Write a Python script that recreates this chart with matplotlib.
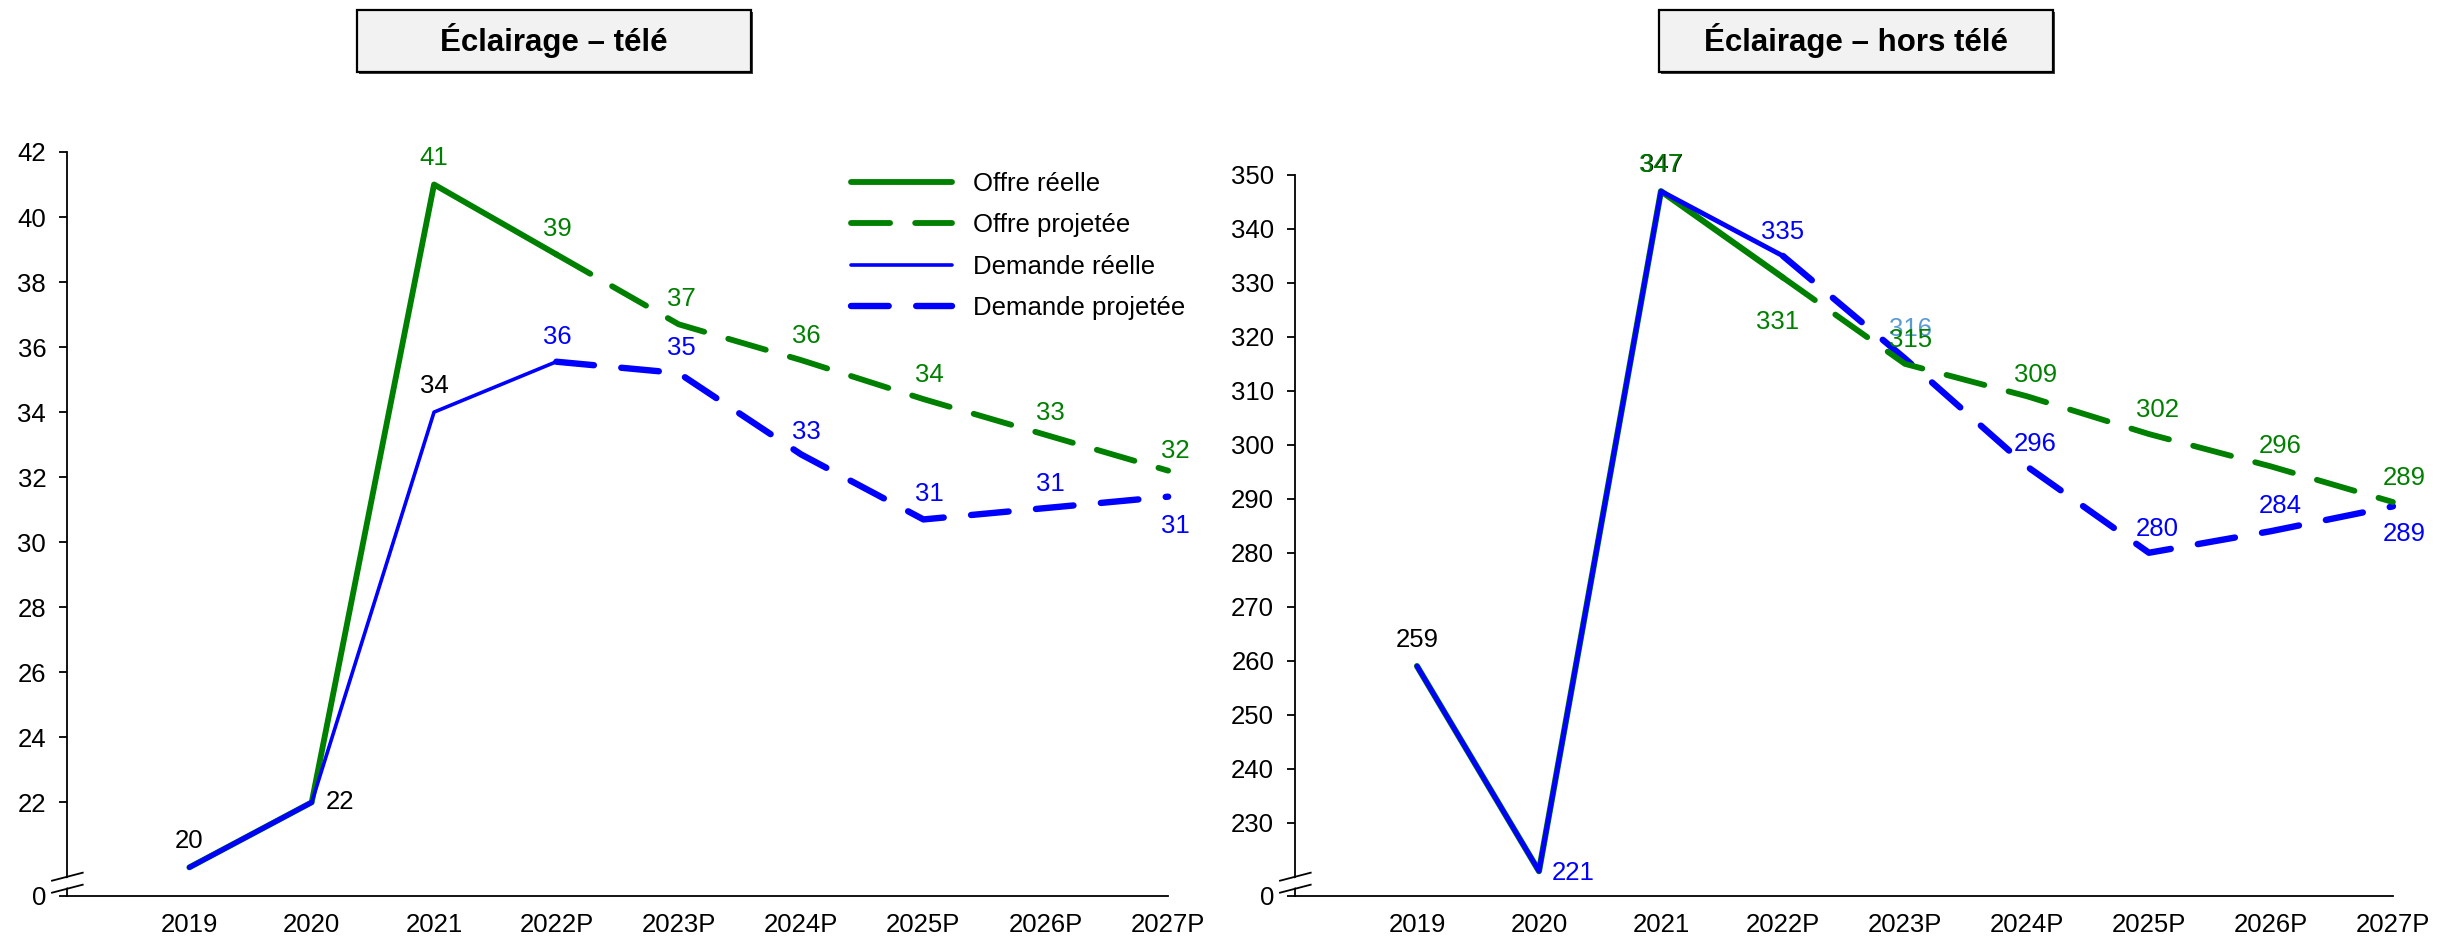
import matplotlib
matplotlib.use("Agg")
import matplotlib.pyplot as plt
import matplotlib.transforms as mtransforms
from matplotlib.patches import Rectangle, Polygon
from matplotlib.lines import Line2D

plt.rcParams['font.family'] = ['Liberation Sans', 'DejaVu Sans']

years = ["2019", "2020", "2021", "2022P", "2023P", "2024P", "2025P", "2026P", "2027P"]

# Eclairage - tele
tele_offre_reelle = [20.0, 22.0, 41.0, 38.85]
tele_offre_proj = [38.85, 36.7, 35.6, 34.4, 33.3, 32.2]
tele_dem_reelle = [20.0, 22.0, 34.0, 35.55]
tele_dem_proj = [35.55, 35.2, 32.7, 30.7, 31.05, 31.4]
tele_yticks = [22, 24, 26, 28, 30, 32, 34, 36, 38, 40, 42]

# Eclairage - hors tele
hors_offre_reelle = [259, 221, 347, 331]
hors_offre_proj = [331, 315, 309, 302, 296, 289.4]
hors_dem_reelle = [259, 221, 347, 335]
hors_dem_proj = [335, 316, 296, 280, 284, 288.6]
hors_yticks = [230, 240, 250, 260, 270, 280, 290, 300, 310, 320, 330, 340, 350]

titles = ["Éclairage – télé", "Éclairage – hors télé"]
legend_labels = ["Offre réelle", "Offre projetée", "Demande réelle", "Demande projetée"]

GREEN = '#008000'
BLUE = '#0000FF'
LIGHTBLUE = '#5B9BD5'
FS = 18.5

x_reel = list(range(4))
x_proj = list(range(3, 9))

fig = plt.figure(figsize=(24.48, 9.36), dpi=100)
ax1 = fig.add_axes([0.02737, 0.04274, 0.4498, 0.7949])
ax2 = fig.add_axes([0.5290, 0.04274, 0.4485, 0.7703])


def style_axis(ax, ymin, ymax, yticks):
    ax.set_xlim(-1, 8)
    ax.set_ylim(ymin, ymax)
    ax.set_xticks(range(len(years)))
    ax.set_xticklabels(years)
    ax.set_yticks([ymin] + yticks)
    ax.set_yticklabels(['0'] + [str(t) for t in yticks])
    for s in ['top', 'right']:
        ax.spines[s].set_visible(False)
    for s in ['left', 'bottom']:
        ax.spines[s].set_linewidth(1.3)
    ax.tick_params(axis='y', length=6, width=1.3, pad=9, labelsize=FS)
    ax.tick_params(axis='x', length=0, pad=12, labelsize=FS)

    # axis break marks near the bottom of the y axis
    tr = fig.dpi_scale_trans + mtransforms.ScaledTranslation(0, 0, ax.transAxes)
    p = lambda px, py: (px / 100, py / 100)
    ax.add_artist(Polygon([p(-15, 4.5), p(15.7, 12.5), p(15.7, 22), p(-15, 14)],
                          closed=True, fc='white', ec='none', transform=tr,
                          clip_on=False, zorder=5))
    for y0 in (3.3, 15.3):
        ax.add_artist(Line2D([-0.15, 0.157], [y0 / 100, (y0 + 8) / 100],
                             color='black', lw=1.3, transform=tr,
                             clip_on=False, zorder=6))


def lab(ax, x, y, color, dx=0, dy=18, ha='center', text=None):
    ax.annotate(text if text else f"{y:.0f}", (x, y), xytext=(dx, dy),
                textcoords='offset points', ha=ha, va='center',
                color=color, fontsize=FS, annotation_clip=False, zorder=10)


dash_g = (0, (6.7, 4.3))
dash_b = (0, (5.9, 4.3))

# ---------- left chart ----------
style_axis(ax1, 19.12, 42, tele_yticks)
l1, = ax1.plot(x_reel, tele_offre_reelle, color=GREEN, lw=4.2, solid_capstyle='round',
               solid_joinstyle='round', clip_on=False)
l2, = ax1.plot(x_proj, tele_offre_proj, color=GREEN, lw=4.2, ls=dash_g,
               dash_capstyle='round', clip_on=False)
l3, = ax1.plot(x_reel, tele_dem_reelle, color=BLUE, lw=2.6, solid_capstyle='round',
               solid_joinstyle='round', clip_on=False)
ax1.plot(x_reel[:2], tele_dem_reelle[:2], color=BLUE, lw=3.6, solid_capstyle='round', clip_on=False)
l4, = ax1.plot(x_proj, tele_dem_proj, color=BLUE, lw=4.6, ls=dash_b,
               dash_capstyle='round', clip_on=False)

lab(ax1, 0, tele_dem_reelle[0], 'black', 0, 19)
lab(ax1, 1, tele_dem_reelle[1], 'black', 10, 0, ha='left')
lab(ax1, 2, tele_offre_reelle[2], GREEN, 0, 19)
lab(ax1, 2, tele_dem_reelle[2], 'black', 0, 19)
lab(ax1, 3, tele_offre_reelle[3], GREEN, 1, 18)
lab(ax1, 3, tele_dem_reelle[3], BLUE, 1, 18)
g_off = [(2, 18), (4, 17), (4, 17), (3, 16), (5, 14)]
b_off = [(2, 18), (4, 16), (4, 18), (3, 17), (5, -21)]
for i in range(5):
    lab(ax1, x_proj[i + 1], tele_offre_proj[i + 1], GREEN, *g_off[i])
    lab(ax1, x_proj[i + 1], tele_dem_proj[i + 1], BLUE, *b_off[i])

ax1.legend([l1, l2, l3, l4], legend_labels, loc='upper left',
           bbox_to_anchor=(851 / 2448, 0.816), bbox_transform=fig.transFigure,
           frameon=False, fontsize=FS, handlelength=3.93, handletextpad=0.82,
           labelspacing=0.67, borderpad=0, borderaxespad=0)

# ---------- right chart ----------
style_axis(ax2, 216.4, 350, hors_yticks)
ax2.plot(x_reel, hors_offre_reelle, color=GREEN, lw=4.4, solid_capstyle='round',
         solid_joinstyle='round', clip_on=False)
ax2.plot(x_reel, hors_dem_reelle, color=BLUE, lw=3.5, solid_capstyle='round',
         solid_joinstyle='round', clip_on=False)
ax2.plot(x_proj, hors_dem_proj, color=BLUE, lw=4.6, ls=dash_b,
         dash_capstyle='round', clip_on=False)
ax2.plot(x_proj, hors_offre_proj, color=GREEN, lw=4.2, ls=dash_g,
         dash_capstyle='round', clip_on=False)

lab(ax2, 0, hors_dem_reelle[0], 'black', 0, 19)
lab(ax2, 1, hors_dem_reelle[1], BLUE, 9, -1, ha='left')
lab(ax2, 2, hors_dem_reelle[2], 'black', 0.7, 19)
lab(ax2, 2, hors_offre_reelle[2], GREEN, 0, 19)
lab(ax2, 3, hors_offre_reelle[3], GREEN, -4, -32)
lab(ax2, 3, hors_dem_reelle[3], BLUE, 0, 17.5)
lab(ax2, 4, hors_dem_proj[1], LIGHTBLUE, 4, 21)
lab(ax2, 4, hors_offre_proj[1], GREEN, 4, 17)
g_off = [(6, 15.5), (6, 17), (7, 14.5), (8, 17)]
b_off = [(6, 16.5), (6, 17), (7, 18), (8, -20)]
for i in range(4):
    lab(ax2, x_proj[i + 2], hors_offre_proj[i + 2], GREEN, *g_off[i])
    lab(ax2, x_proj[i + 2], hors_dem_proj[i + 2], BLUE, *b_off[i])

# ---------- title boxes ----------
bw, bh = 394 / 2448, 62 / 936
by = 1 - 72 / 936
for bx, t in zip([357 / 2448, 1659 / 2448], titles):
    fig.add_artist(Rectangle((bx + 2 / 2448, by - 2 / 936), bw, bh, transform=fig.transFigure,
                             fc='#404040', ec='none', zorder=1))
    fig.add_artist(Rectangle((bx, by), bw, bh, transform=fig.transFigure,
                             fc='#F2F2F2', ec='black', lw=1.6, zorder=2))
    fig.text(bx + bw / 2, by + bh / 2, t, ha='center', va='center',
             fontsize=22.5, fontweight='bold', zorder=3)

fig.savefig("out.png", dpi=100)
